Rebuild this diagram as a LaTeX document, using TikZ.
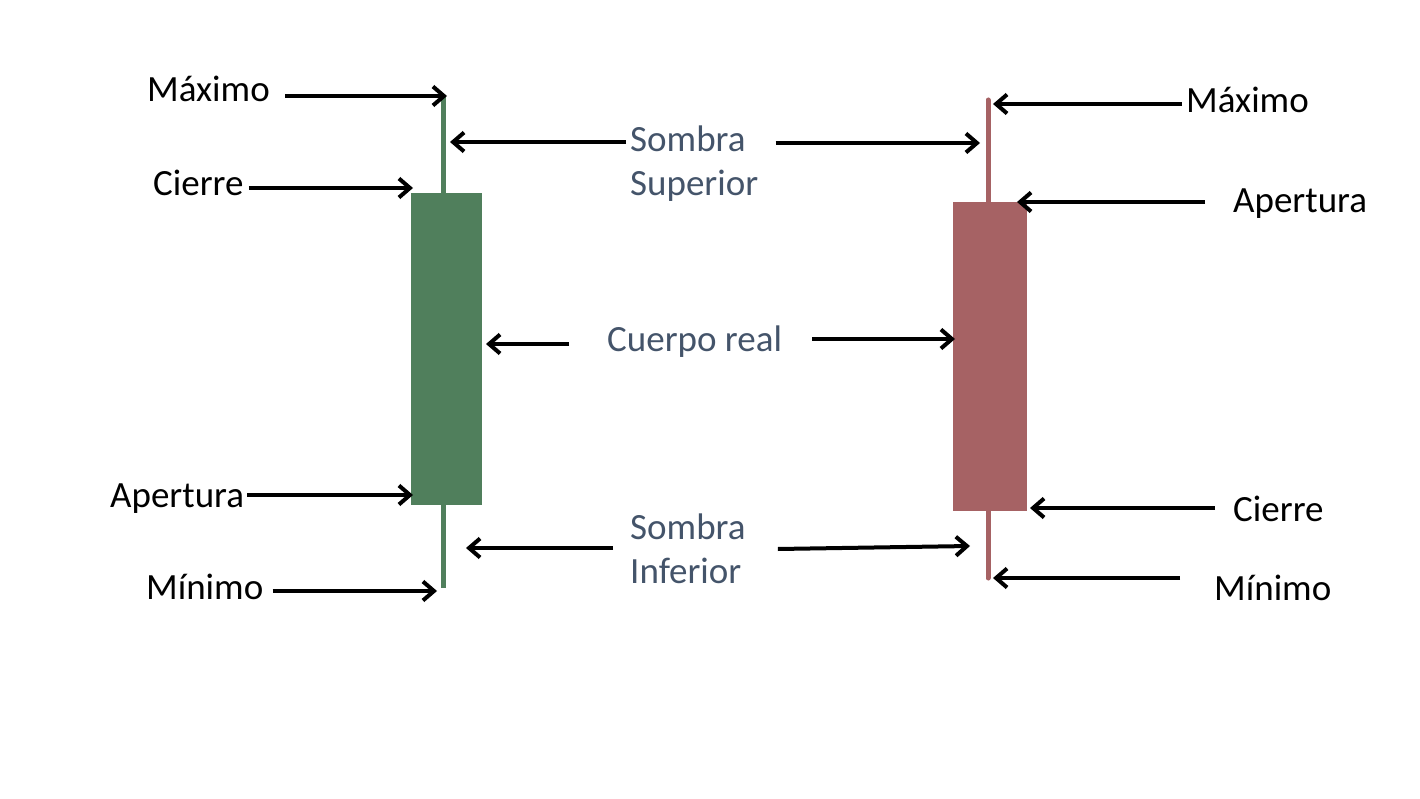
\documentclass[tikz,border=0pt]{standalone}
\usepackage{fontspec}
\setmainfont{Carlito}
\usetikzlibrary{arrows.meta}
\definecolor{verdevela}{HTML}{507F5C}
\definecolor{rojovela}{HTML}{A66264}
\definecolor{grisazul}{HTML}{44546A}
\tikzset{
  flecha/.style={line width=4pt, -{Straight Barb[length=11pt,width=19pt]}},
  etiqueta/.style={inner sep=0pt, anchor=base west, font=\fontsize{37pt}{44pt}\selectfont},
  etiquetagris/.style={etiqueta, text=grisazul, align=left}
}
\begin{document}
\begin{tikzpicture}[x=1pt,y=-1pt]
\useasboundingbox (0,0) rectangle (1420,799);
% velas
\draw[verdevela, line width=5pt] (443,97) -- (443,588);
\fill[verdevela] (411,193) rectangle (482,505);
\draw[rojovela, line width=5pt, line cap=round] (988,100) -- (988,578);
\fill[rojovela] (953,202) rectangle (1027,511);
% puntas de las flechas
\coordinate (gMax) at (447,96);
\coordinate (gCie) at (413,188);
\coordinate (gApe) at (413,495);
\coordinate (gMin) at (437,591);
\coordinate (gSup) at (450,142);
\coordinate (gCue) at (486,344);
\coordinate (gInf) at (466,548);
\coordinate (rMax) at (993,104);
\coordinate (rApe) at (1017,202);
\coordinate (rCie) at (1030,508);
\coordinate (rMin) at (993,578);
\coordinate (rSup) at (980,143);
\coordinate (rCue) at (955,339);
\coordinate (rInf) at (970,546);
% etiquetas
\node[etiqueta] (maxG) at (147,102) {Máximo};
\node[etiqueta] (cieG) at (153,196) {Cierre};
\node[etiqueta] (apeG) at (110,507) {Apertura};
\node[etiqueta] (minG) at (146,599) {Mínimo};
\node[etiqueta] (maxR) at (1186,113) {Máximo};
\node[etiqueta] (apeR) at (1233,213) {Apertura};
\node[etiqueta] (cieR) at (1233,521) {Cierre};
\node[etiqueta] (minR) at (1214,600) {Mínimo};
\node[etiquetagris] (sombraSup) at (630,196) {Sombra\\Superior};
\node[etiquetagris] (cuerpo) at (607,351) {Cuerpo real};
\node[etiquetagris] (sombraInf) at (630,583) {Sombra\\Inferior};
% flechas
\draw[flecha] ([xshift=15pt]maxG.east |- gMax) -- (gMax);
\draw[flecha] ([xshift=5pt]cieG.east |- gCie) -- (gCie);
\draw[flecha] ([xshift=3pt]apeG.east |- gApe) -- (gApe);
\draw[flecha] ([xshift=9pt]minG.east |- gMin) -- (gMin);
\draw[flecha] ([xshift=-4pt]maxR.west |- rMax) -- (rMax);
\draw[flecha] ([xshift=-28pt]apeR.west |- rApe) -- (rApe);
\draw[flecha] ([xshift=-18pt]cieR.west |- rCie) -- (rCie);
\draw[flecha] ([xshift=-34pt]minR.west |- rMin) -- (rMin);
\draw[flecha] ([xshift=-4pt]sombraSup.west |- gSup) -- (gSup);
\draw[flecha] ([xshift=17pt]sombraSup.east |- rSup) -- (rSup);
\draw[flecha] ([xshift=-38pt]cuerpo.west |- gCue) -- (gCue);
\draw[flecha] ([xshift=30pt]cuerpo.east |- rCue) -- (rCue);
\draw[flecha] ([xshift=-17pt]sombraInf.west |- gInf) -- (gInf);
\draw[flecha] ([xshift=32pt,yshift=-3pt]sombraInf.east |- rInf) -- (rInf);
\end{tikzpicture}
\end{document}
